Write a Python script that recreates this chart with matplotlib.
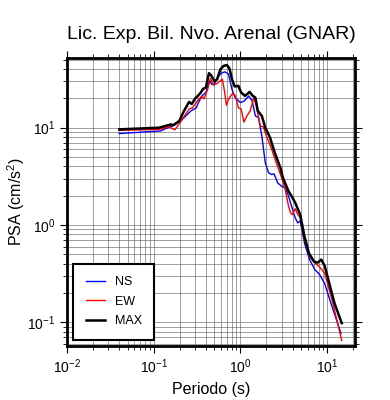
import matplotlib
matplotlib.use('Agg')
from matplotlib import pyplot as plt

plt.rcParams['font.family'] = ['Liberation Sans', 'DejaVu Sans']
plt.rcParams['mathtext.fontset'] = 'custom'
plt.rcParams['mathtext.rm'] = 'Liberation Sans'
plt.rcParams['mathtext.it'] = 'Liberation Sans'

# NS component
ns_t = [0.040, 0.12, 0.138, 0.165, 0.205, 0.234, 0.27, 0.31, 0.328, 0.36, 0.40,
        0.44, 0.47, 0.50, 0.56, 0.62, 0.67, 0.73, 0.80, 0.87, 1.0, 1.11, 1.25,
        1.37, 1.49, 1.62, 1.77, 1.94, 2.12, 2.3, 2.45, 2.7, 3.0, 3.3, 3.6, 3.9,
        4.3, 4.6, 4.9, 5.5, 6.3, 7.2, 8.2, 9.4, 11.1, 14.5]
ns_psa = [8.7, 9.25, 9.8, 10.4, 11.7, 13.2, 14.9, 16.0, 18.1, 21.2, 23.0,
          30.3, 27.9, 28.2, 34.0, 36.9, 37.4, 35.5, 24.8, 20.4, 18.1, 18.8, 21.2,
          18.8, 13.2, 12.7, 8.2, 4.35, 3.43, 3.3, 3.35, 2.7, 2.5, 2.4, 1.98, 1.56,
          1.18, 1.05, 1.1, 0.65, 0.44, 0.35, 0.31, 0.25, 0.157, 0.077]

# EW component
ew_t = [0.040, 0.116, 0.15, 0.175, 0.19, 0.22, 0.256, 0.28, 0.31, 0.33, 0.36,
        0.38, 0.42, 0.45, 0.49, 0.54, 0.62, 0.66, 0.69, 0.73, 0.81, 0.87, 0.95,
        1.02, 1.1, 1.19, 1.3, 1.43, 1.52, 1.7, 1.84, 2.0, 2.3, 2.6, 3.0, 3.3,
        3.6, 3.8, 4.0, 4.3, 4.6, 4.9, 5.5, 6.3, 7.2, 8.2, 9.4, 11.7, 14.8]
ew_psa = [9.4, 9.6, 10.2, 9.5, 10.5, 12.7, 15.5, 16.0, 18.1, 19.6, 21.0,
          19.8, 24.8, 32.0, 27.3, 28.5, 31.5, 23.0, 17.0, 19.6, 22.4, 21.5, 16.0,
          15.6, 11.4, 13.2, 14.9, 20.4, 17.0, 10.4, 10.2, 8.2, 6.0, 4.35, 3.05, 2.3,
          1.56, 1.33, 1.28, 1.47, 1.28, 1.2, 0.70, 0.47, 0.41, 0.37, 0.32, 0.157, 0.065]

# MAX
mx_t = [0.040, 0.116, 0.158, 0.168, 0.197, 0.224, 0.256, 0.275, 0.30, 0.32,
        0.35, 0.37, 0.40, 0.434, 0.46, 0.504, 0.54, 0.59, 0.643, 0.70, 0.75,
        0.80, 0.86, 0.95, 1.02, 1.13, 1.28, 1.39, 1.49, 1.59, 1.77, 1.94, 2.2,
        2.5, 2.9, 3.1, 3.6, 3.9, 4.3, 4.9, 5.5, 6.2, 7.1, 7.8, 8.6, 9.4, 10.4,
        12.2, 14.8]
mx_psa = [9.6, 10.0, 10.8, 10.6, 11.7, 14.9, 18.4, 17.5, 19.9, 21.0,
          23.0, 25.0, 25.8, 36.3, 34.5, 29.8, 31.5, 40.0, 43.2, 44.0, 40.5,
          31.5, 26.5, 26.9, 23.0, 21.2, 23.3, 21.2, 20.4, 14.9, 13.2, 10.0, 7.9,
          5.5, 3.87, 3.05, 2.22, 1.98, 1.69, 1.28, 0.76, 0.51, 0.42, 0.41, 0.44,
          0.38, 0.27, 0.157, 0.098]

fig = plt.figure(figsize=(3.9, 4.0), dpi=100)
ax = fig.add_axes([0.172, 0.135, 0.738, 0.72])

ax.loglog(ns_t, ns_psa, color='#0000ff', lw=1.0, label='NS')
ax.loglog(ew_t, ew_psa, color='#ff0000', lw=1.0, label='EW')
ax.loglog(mx_t, mx_psa, color='black', lw=1.8, label='MAX')

ax.set_xlim(0.01, 21)
ax.set_ylim(0.057, 52)

ax.grid(True, which='both', color='#555555', lw=0.5, alpha=0.8)
for s in ax.spines.values():
    s.set_linewidth(2)
ax.tick_params(which='both', direction='out', top=True, right=True, labelsize=10)
ax.tick_params(which='major', length=5)
ax.tick_params(which='minor', length=3)

ax.set_title('Lic. Exp. Bil. Nvo. Arenal (GNAR)', fontsize=14, pad=14)
ax.set_xlabel('Periodo (s)', fontsize=11.5)
ax.set_ylabel('PSA (cm/s$^2$)', fontsize=11.5)
ax.yaxis.set_label_coords(-0.139, 0.5)

leg = ax.legend(loc='lower left', fontsize=9, fancybox=False, framealpha=1,
                edgecolor='black', borderpad=1.0, handlelength=1.5,
                labelspacing=0.6)
leg.get_frame().set_linewidth(1.5)

plt.savefig('out.png', dpi=100)
